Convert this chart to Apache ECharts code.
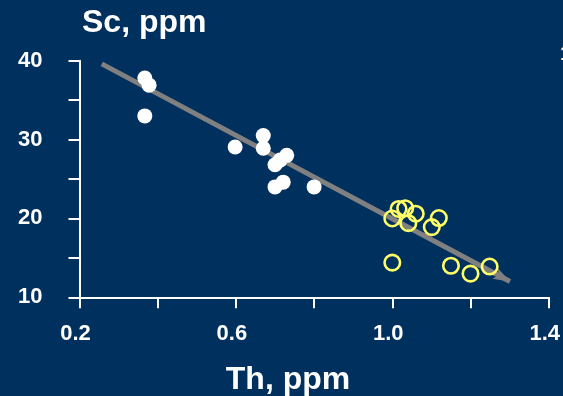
<!DOCTYPE html>
<html>
<head>
<meta charset="utf-8">
<script src="https://cdn.jsdelivr.net/npm/echarts@6/dist/echarts.min.js"></script>
<style>
  html, body { margin: 0; padding: 0; background: #00305e; }
  #chart { width: 563px; height: 396px; }
</style>
</head>
<body>
<div id="chart"></div>
<script>
// Th (ppm) vs Sc (ppm)
const groupAPoints = [
  [0.367, 37.8], [0.378, 36.9], [0.367, 33.0], [0.598, 29.05],
  [0.670, 30.5], [0.670, 28.9], [0.730, 28.0], [0.713, 27.4],
  [0.700, 26.8], [0.721, 24.6], [0.700, 24.0], [0.800, 24.0]
];
const groupBPoints = [
  [1.000, 20.0], [1.016, 21.2], [1.033, 21.3], [1.060, 20.6],
  [1.041, 19.4], [1.119, 20.05], [1.101, 18.9], [1.000, 14.4],
  [1.150, 14.0], [1.200, 13.0], [1.249, 13.9]
];
// trend arrow: start and tip
const trendStart = [0.257, 39.6];
const trendEnd = [1.301, 12.0];

const xTicks = { min: 0.2, max: 1.4, step: 0.2 };
const yTicks = { min: 10, max: 40, step: 5 };
const xLabelValues = [0.2, 0.6, 1.0, 1.4];
const yLabelValues = [10, 20, 30, 40];

const white = '#ffffff';
const yellow = '#ffff66';
const font = '"Liberation Sans", Arial, sans-serif';

const chart = echarts.init(document.getElementById('chart'), null, { renderer: 'canvas' });

const axisCommon = {
  axisLine: { show: true, lineStyle: { color: white, width: 2 } },
  axisTick: { show: true, inside: false, length: 11, lineStyle: { color: white, width: 2 } },
  splitLine: { show: false },
  axisLabel: { color: white, fontFamily: font, fontWeight: 'bold', fontSize: 22 }
};

chart.setOption({
  backgroundColor: '#00305e',
  animation: false,
  grid: { left: 79.5, right: 14, top: 60.7, bottom: 98.7, containLabel: false },
  xAxis: {
    type: 'value',
    min: xTicks.min, max: xTicks.max, interval: xTicks.step,
    ...axisCommon,
    axisLabel: {
      ...axisCommon.axisLabel,
      margin: 26,
      padding: [0, 8, 0, 0],
      formatter: v => xLabelValues.some(t => Math.abs(t - v) < 1e-6) ? v.toFixed(1) : ''
    }
  },
  yAxis: {
    type: 'value',
    min: yTicks.min, max: yTicks.max, interval: yTicks.step,
    ...axisCommon,
    axisLabel: {
      ...axisCommon.axisLabel,
      margin: 37,
      formatter: v => yLabelValues.includes(v) ? String(v) : ''
    }
  },
  graphic: [
    { type: 'text', left: 82, top: 7,
      style: { text: 'Sc, ppm', fill: white, font: 'bold 32px ' + font } },
    { type: 'text', x: 288, y: 380,
      style: { text: 'Th, ppm', fill: white, font: 'bold 32px ' + font, align: 'center', verticalAlign: 'middle' } },
    { type: 'text', x: 560, y: 44,
      style: { text: '1', fill: white, font: 'bold 21px ' + font } }
  ],
  series: [
    {
      type: 'scatter',
      data: groupAPoints,
      symbol: 'circle',
      symbolSize: 15,
      itemStyle: { color: white, opacity: 1 },
      z: 3
    },
    {
      type: 'scatter',
      data: groupBPoints,
      symbol: 'circle',
      symbolSize: 15.5,
      itemStyle: { color: 'rgba(0,0,0,0)', borderColor: yellow, borderWidth: 2.6, opacity: 1 },
      z: 3,
      markLine: {
        silent: true,
        animation: false,
        symbol: ['none', 'arrow'],
        label: { show: false },
        lineStyle: { color: '#808080', width: 5, type: 'solid' },
        emphasis: { disabled: true },
        data: [[
          { coord: trendStart, symbol: 'none' },
          { coord: trendEnd, symbol: 'arrow', symbolSize: [9, 17], itemStyle: { color: '#808080' } }
        ]],
        z: 2
      }
    }
  ]
});
</script>
</body>
</html>
